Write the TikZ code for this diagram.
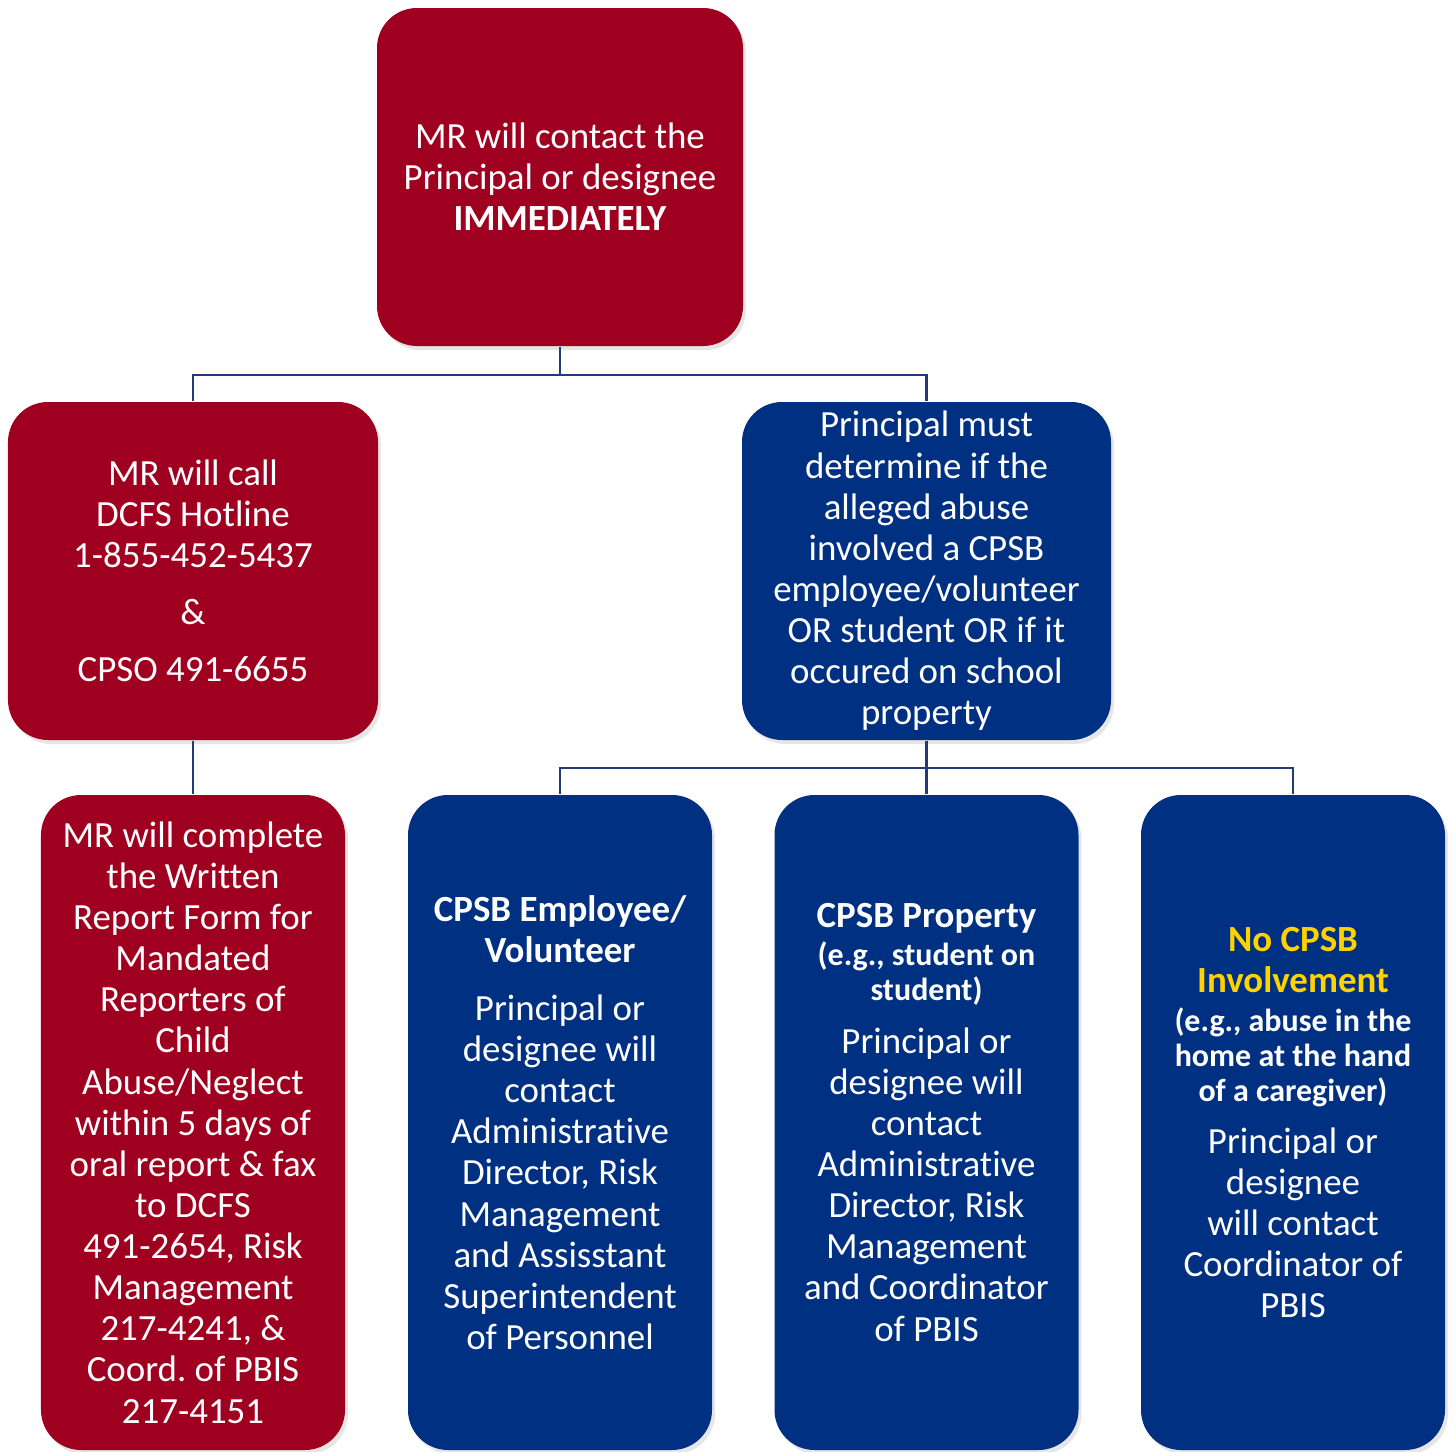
\documentclass[tikz,border=0pt]{standalone}
\usepackage{fontspec}
\setmainfont{Carlito}[Ligatures={CommonOff,ContextualOff}, RawFeature={-liga;-clig}]
\usepackage{tikz}
\usepackage{xcolor}
\usetikzlibrary{
    shadows,
    positioning
}
\definecolor{mrred}{HTML}{A00020}
\definecolor{cpsbblue}{HTML}{003082}
\definecolor{cpsbgold}{HTML}{FFD200}
\definecolor{linkblue}{HTML}{1F3C78}
\tikzset{
    box/.style={rounded corners=0.4cm, align=center, text=white,
        font=\fontsize{10.5}{11.7}\selectfont\frenchspacing, inner sep=0pt,
        drop shadow={opacity=0.2, shadow xshift=0.03cm, shadow yshift=-0.04cm}},
    redbox/.style={box, fill=mrred},
    bluebox/.style={box, fill=cpsbblue},
    link/.style={draw=linkblue, line width=0.6pt}
}
\newcommand{\eg}{\fontsize{9.1}{10}\selectfont\bfseries}
\newcommand{\plain}{\fontsize{10.5}{11.7}\selectfont\mdseries}

\begin{document}
\begin{tikzpicture}
                        \useasboundingbox (0, 0) rectangle (14.54, -14.52);

                        \node[redbox, minimum width=3.66cm, minimum height=3.38cm] (top) at (5.60, -1.77)
                        {MR will contact the\\Principal or designee\\\textbf{IMMEDIATELY}};

                        \node[redbox, minimum width=3.70cm, minimum height=3.38cm] (call) at (1.93, -5.71)
                        {MR will call\\DCFS Hotline\\1-855-452-5437\\[0.16cm]\&\\[0.16cm]CPSO 491-6655};
                        \node[bluebox, minimum width=3.69cm, minimum height=3.38cm] (decide) at (9.265, -5.71)
                        {Principal must\\determine if the\\alleged abuse\\involved a CPSB\\employee/volunteer\\OR student OR if it\\occured on school\\property};

                        \node[redbox, minimum width=3.04cm, minimum height=6.55cm] (report) at (1.93, -11.225)
                        {MR will complete\\the Written\\Report Form for\\Mandated\\Reporters of\\Child\\Abuse/Neglect\\within 5 days of\\oral report \& fax\\to DCFS\\491-2654, Risk\\Management\\217-4241, \&\\Coord. of PBIS\\217-4151};
                        \node[bluebox, minimum width=3.04cm, minimum height=6.55cm] (staff) at (5.60, -11.225)
                        {\bfseries CPSB Employee/\\\bfseries Volunteer\\[0.17cm]\plain Principal or\\designee will\\contact\\Administrative\\Director, Risk\\Management\\and Assisstant\\Superintendent\\of Personnel};
                        \node[bluebox, minimum width=3.04cm, minimum height=6.55cm] (property) at (9.265, -11.225)
                        {\bfseries CPSB Property\\[-0.04cm]\eg (e.g., student on\\[-0.06cm]\eg student)\\[0.12cm]\plain Principal or\\designee will\\contact\\Administrative\\Director, Risk\\Management\\and Coordinator\\of PBIS};
                        \node[bluebox, minimum width=3.04cm, minimum height=6.55cm] (none) at (12.93, -11.225)
                        {\bfseries\color{cpsbgold}No CPSB\\\bfseries\color{cpsbgold}Involvement\\[-0.02cm]\eg (e.g., abuse in the\\[-0.06cm]\eg home at the hand\\[-0.06cm]\eg of a caregiver)\\[0.10cm]\plain Principal or\\designee\\will contact\\Coordinator of\\PBIS};

                        \draw[link] (top.south) -- ++(0, -0.28) -| (call.north);
                        \draw[link] (top.south) -- ++(0, -0.28) -| (decide.north);
                        \draw[link] (call.south) -- (report.north);
                        \draw[link] (decide.south) -- ++(0, -0.27) -| (staff.north);
                        \draw[link] (decide.south) -- (property.north);
                        \draw[link] (decide.south) -- ++(0, -0.27) -| (none.north);
                    \end{tikzpicture}
\end{document}
